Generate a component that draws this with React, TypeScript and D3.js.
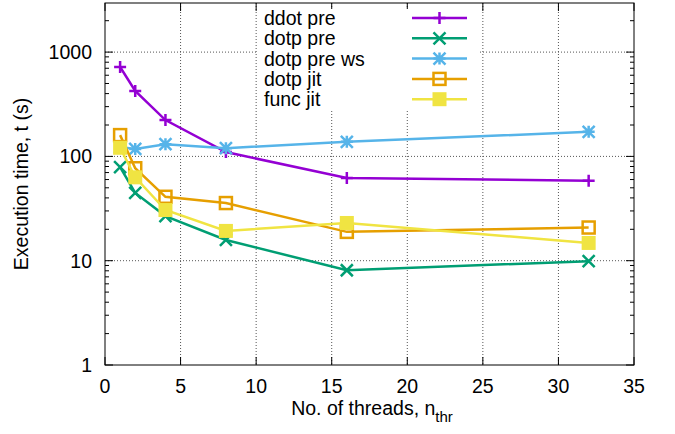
import React, { useRef, useEffect } from "react";
import * as d3 from "d3";

// threads
const threads = [1, 2, 4, 8, 16, 32];

// execution times (s)
const ddotPre = [720, 424, 223, 110, 62, 58.5];
const dotpPre = [79, 44.6, 26.8, 15.8, 8.1, 9.9];
const dotpPreWs = [123, 118, 131, 120, 138, 172];
const dotpJit = [160, 77, 41, 35.7, 18.9, 20.8];
const funcJit = [121, 63, 30.6, 19.3, 23, 14.8];

const seriesNames = ["ddot pre", "dotp pre", "dotp pre ws", "dotp jit", "func jit"];
const seriesValues = [ddotPre, dotpPre, dotpPreWs, dotpJit, funcJit];
const seriesColors = ["#9400d3", "#009e73", "#56b4e9", "#e69f00", "#f0e442"];
const seriesMarkers = ["plus", "cross", "star", "square", "fsquare"];

const xTicks = [0, 5, 10, 15, 20, 25, 30, 35];
const yTicks = [1, 10, 100, 1000];

const FONT = "'Liberation Sans', Arial, sans-serif";
const FS = "19.5px";

const App = () => {
  const svgRef = useRef<SVGSVGElement>(null);

  useEffect(() => {
    const width = 675;
    const height = 434;
    const left = 105,
      right = 634,
      top = 3,
      bottom = 365;

    const svg = d3.select(svgRef.current);
    svg.selectAll("*").remove();
    svg.attr("width", width).attr("height", height);

    const x = d3.scaleLinear().domain([0, 35]).range([left, right]);
    const y = d3
      .scaleLog()
      .domain([1, Math.pow(10, (bottom - top) / 104.3)])
      .range([bottom, top]);

    // grid
    const grid = svg.append("g");
    xTicks.slice(1, -1).forEach((t) => {
      grid
        .append("line")
        .attr("x1", x(t))
        .attr("x2", x(t))
        .attr("y1", top)
        .attr("y2", bottom)
        .attr("stroke", "#555")
        .attr("stroke-width", 1)
        .attr("stroke-dasharray", "1,2");
    });
    yTicks.slice(1).forEach((t) => {
      grid
        .append("line")
        .attr("x1", left)
        .attr("x2", right)
        .attr("y1", y(t))
        .attr("y2", y(t))
        .attr("stroke", "#555")
        .attr("stroke-width", 1)
        .attr("stroke-dasharray", "1,2");
    });

    // ticks (mirrored on all sides)
    const ticks = svg.append("g").attr("stroke", "#000").attr("stroke-width", 1);
    xTicks.forEach((t) => {
      ticks.append("line").attr("x1", x(t)).attr("x2", x(t)).attr("y1", bottom).attr("y2", bottom - 8);
      ticks.append("line").attr("x1", x(t)).attr("x2", x(t)).attr("y1", top).attr("y2", top + 8);
    });
    for (let d = 1; d < 3000; d *= 10) {
      for (let m = 1; m <= 9; m++) {
        const v = d * m;
        if (y(v) < top) continue;
        const len = m === 1 ? 8 : 4;
        ticks.append("line").attr("x1", left).attr("x2", left + len).attr("y1", y(v)).attr("y2", y(v));
        ticks.append("line").attr("x1", right).attr("x2", right - len).attr("y1", y(v)).attr("y2", y(v));
      }
    }

    // tick labels
    svg
      .append("g")
      .selectAll("text")
      .data(xTicks)
      .enter()
      .append("text")
      .attr("x", (d) => x(d))
      .attr("y", bottom + 28)
      .attr("text-anchor", "middle")
      .style("font-family", FONT)
      .style("font-size", FS)
      .text((d) => d);

    svg
      .append("g")
      .selectAll("text")
      .data(yTicks)
      .enter()
      .append("text")
      .attr("x", left - 13)
      .attr("y", (d) => y(d) + 7)
      .attr("text-anchor", "end")
      .style("font-family", FONT)
      .style("font-size", FS)
      .text((d) => d);

    // axis titles
    const xl = svg
      .append("text")
      .attr("x", 372)
      .attr("y", 415)
      .attr("text-anchor", "middle")
      .style("font-family", FONT)
      .style("font-size", FS);
    xl.append("tspan").text("No. of threads, n");
    xl.append("tspan").attr("dy", 7).style("font-size", "15px").text("thr");

    svg
      .append("text")
      .attr("transform", `translate(28, ${(top + bottom) / 2}) rotate(-90)`)
      .attr("text-anchor", "middle")
      .style("font-family", FONT)
      .style("font-size", FS)
      .text("Execution time, t (s)");

    // marker drawing helper
    const drawMarker = (g, kind, cx, cy, color) => {
      const s = 6;
      if (kind === "plus") {
        g.append("path")
          .attr("d", `M${cx - s},${cy}H${cx + s}M${cx},${cy - s}V${cy + s}`)
          .attr("stroke", color)
          .attr("stroke-width", 2.5)
          .attr("fill", "none");
      } else if (kind === "cross") {
        g.append("path")
          .attr("d", `M${cx - s},${cy - s}L${cx + s},${cy + s}M${cx - s},${cy + s}L${cx + s},${cy - s}`)
          .attr("stroke", color)
          .attr("stroke-width", 2.5)
          .attr("fill", "none");
      } else if (kind === "star") {
        g.append("path")
          .attr(
            "d",
            `M${cx - s},${cy}H${cx + s}M${cx},${cy - s}V${cy + s}` +
              `M${cx - s},${cy - s}L${cx + s},${cy + s}M${cx - s},${cy + s}L${cx + s},${cy - s}`
          )
          .attr("stroke", color)
          .attr("stroke-width", 2.5)
          .attr("fill", "none");
      } else if (kind === "square") {
        g.append("rect")
          .attr("x", cx - s)
          .attr("y", cy - s)
          .attr("width", 2 * s)
          .attr("height", 2 * s)
          .attr("stroke", color)
          .attr("stroke-width", 2.5)
          .attr("fill", "none");
      } else {
        g.append("rect")
          .attr("x", cx - s - 1)
          .attr("y", cy - s - 1)
          .attr("width", 2 * s + 2)
          .attr("height", 2 * s + 2)
          .attr("fill", color);
      }
    };

    // lines + points
    const line = d3
      .line<number>()
      .x((_, i) => x(threads[i]))
      .y((d) => y(d));

    seriesValues.forEach((vals, k) => {
      const g = svg.append("g");
      g.append("path")
        .attr("d", line(vals))
        .attr("fill", "none")
        .attr("stroke", seriesColors[k])
        .attr("stroke-width", 2.5);
      vals.forEach((v, i) => drawMarker(g, seriesMarkers[k], x(threads[i]), y(v), seriesColors[k]));
    });

    // legend, opaque box
    const lg = svg.append("g");
    lg.append("rect").attr("x", 258).attr("y", 9).attr("width", 221).attr("height", 100).attr("fill", "#fff");
    seriesNames.forEach((name, k) => {
      const cy = 18 + k * 20.3;
      lg.append("text")
        .attr("x", 264)
        .attr("y", cy + 7)
        .style("font-family", FONT)
        .style("font-size", FS)
        .text(name);
      lg.append("line")
        .attr("x1", 412)
        .attr("x2", 467)
        .attr("y1", cy)
        .attr("y2", cy)
        .attr("stroke", seriesColors[k])
        .attr("stroke-width", 2.5);
      drawMarker(lg, seriesMarkers[k], 439.5, cy, seriesColors[k]);
    });

    // frame
    svg
      .append("rect")
      .attr("x", left)
      .attr("y", top)
      .attr("width", right - left)
      .attr("height", bottom - top)
      .attr("fill", "none")
      .attr("stroke", "#000")
      .attr("stroke-width", 1);
  }, []);

  return (
    <div style={{ position: "absolute", left: 0, top: 0, background: "#fff" }}>
      <svg ref={svgRef}></svg>
    </div>
  );
};

export default App;
